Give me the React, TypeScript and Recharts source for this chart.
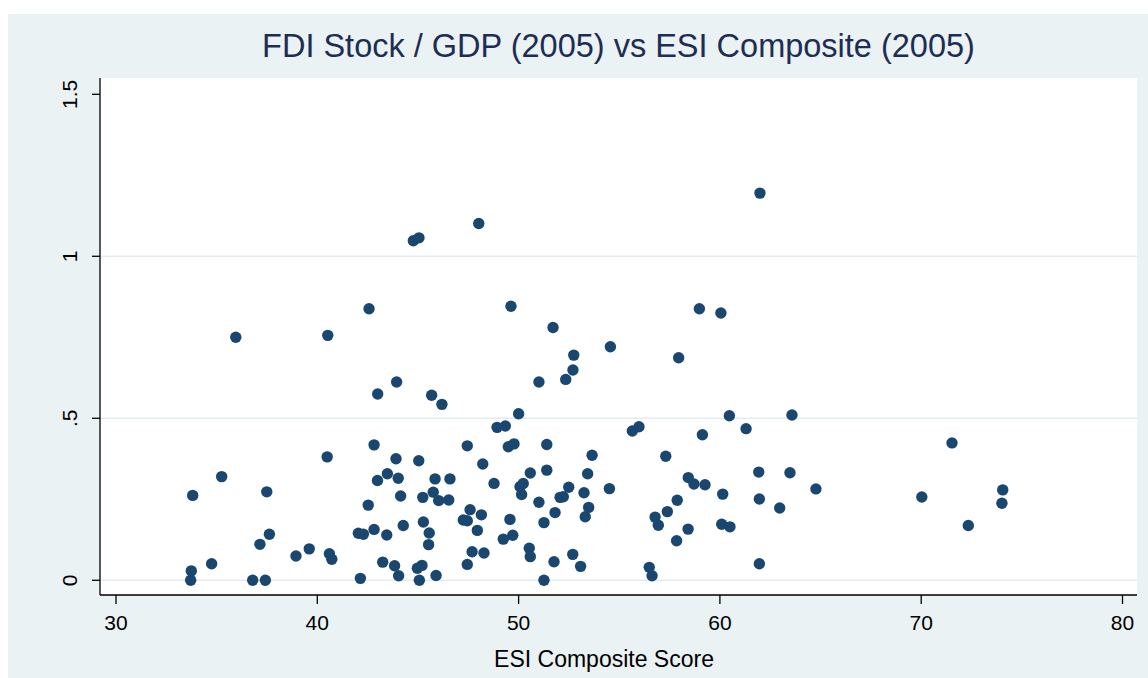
import { CartesianGrid, Scatter, ScatterChart, XAxis, YAxis } from "recharts";

const esiScore = [
  42.82, 40.49, 35.25, 33.81, 37.49, 42.99, 42.53, 37.62, 37.15, 42.04,
  42.29, 42.82, 38.94, 39.6, 40.6, 40.72, 34.75, 33.74, 33.71, 36.79,
  37.42, 42.14, 47.45, 49.49, 49.77, 51.4, 53.65, 43.91, 45.04, 48.22,
  43.48, 44.02, 45.85, 46.59, 51.4, 50.58, 53.43, 48.78, 50.23, 50.07,
  50.15, 52.49, 52.06, 52.22, 53.25, 54.51, 44.14, 45.24, 45.76, 46.03,
  46.53, 51.01, 47.59, 48.15, 53.48, 53.31, 51.81, 51.26, 49.57, 47.25,
  47.45, 45.27, 43.45, 44.27, 45.56, 45.53, 47.95, 49.24, 49.71, 47.69,
  48.28, 50.53, 50.58, 52.69, 51.76, 53.08, 43.25, 43.84, 44.04, 44.97,
  45.2, 45.9, 45.07, 47.45, 51.26, 60.47, 63.58, 55.65, 55.98, 61.3,
  59.13, 57.31, 61.93, 63.48, 58.43, 58.71, 59.26, 64.77, 60.14, 61.96,
  57.88, 57.39, 56.78, 56.94, 62.97, 58.42, 60.09, 60.5, 57.85, 56.49,
  56.63, 61.96, 71.53, 70.03, 74.05, 74.01, 72.34, 35.95, 40.52, 42.57,
  49.62, 51.71, 52.74, 52.7, 52.34, 54.56, 51.01, 43.94, 43.0, 45.68,
  46.19, 50.0, 48.93, 49.34, 61.99, 58.98, 60.05, 57.95, 44.77, 45.05,
  48.02,
];

const fdiGdp = [
  0.418, 0.381, 0.32, 0.262, 0.273, 0.308, 0.232, 0.142, 0.111, 0.145,
  0.142, 0.157, 0.075, 0.097, 0.082, 0.065, 0.051, 0.029, 0.0, 0.0,
  0.0, 0.006, 0.415, 0.412, 0.421, 0.419, 0.386, 0.375, 0.369, 0.359,
  0.329, 0.315, 0.313, 0.313, 0.34, 0.331, 0.329, 0.299, 0.299, 0.289,
  0.265, 0.287, 0.256, 0.258, 0.27, 0.283, 0.26, 0.256, 0.272, 0.246,
  0.248, 0.241, 0.218, 0.202, 0.225, 0.196, 0.209, 0.178, 0.188, 0.186,
  0.184, 0.18, 0.14, 0.169, 0.146, 0.11, 0.154, 0.127, 0.139, 0.088,
  0.084, 0.099, 0.073, 0.08, 0.057, 0.043, 0.056, 0.045, 0.014, 0.037,
  0.046, 0.015, 0.0, 0.049, 0.0, 0.508, 0.51, 0.461, 0.474, 0.468,
  0.449, 0.383, 0.334, 0.332, 0.317, 0.297, 0.295, 0.282, 0.266, 0.251,
  0.247, 0.212, 0.195, 0.17, 0.223, 0.158, 0.173, 0.165, 0.122, 0.04,
  0.014, 0.051, 0.424, 0.257, 0.279, 0.238, 0.169, 0.75, 0.756, 0.838,
  0.846, 0.78, 0.695, 0.649, 0.62, 0.721, 0.612, 0.612, 0.575, 0.571,
  0.543, 0.514, 0.472, 0.476, 1.195, 0.838, 0.825, 0.687, 1.048, 1.057,
  1.101,
];

const xTicks = [30, 40, 50, 60, 70, 80];
const yTicks = [0, 0.5, 1, 1.5];
const yTickLabels = ["0", ".5", "1", "1.5"];
const gridValues = [0, 0.5, 1];

const FONT = "'Liberation Sans', Arial, Helvetica, sans-serif";
const NAVY = "#1A476F";
const BG = "#EAF2F3";

const data = esiScore.map((esi, i) => ({ esi, fdi: fdiGdp[i] }));

function XTick({ x, payload }: any) {
  return (
    <text x={x} y={616} textAnchor="middle" fontSize={21} fontFamily={FONT} fill="#000">
      {payload.value}
    </text>
  );
}

function YTick({ y, payload }: any) {
  const idx = yTicks.indexOf(payload.value);
  return (
    <text
      x={69}
      y={y}
      textAnchor="middle"
      fontSize={21}
      fontFamily={FONT}
      fill="#000"
      transform={`rotate(-90, 69, ${y})`}
    >
      {idx >= 0 ? yTickLabels[idx] : payload.value}
    </text>
  );
}

function Dot({ cx, cy }: any) {
  return <circle cx={cx} cy={cy} r={5.7} fill={NAVY} />;
}

export default function App() {
  return (
    <div style={{ position: "fixed", left: 8, top: 14, width: 1140, height: 664, background: BG }}>
      <ScatterChart width={1140} height={664} margin={{ top: 64, right: 11, left: 0, bottom: 0 }}>
        <CartesianGrid
          fill="#fff"
          vertical={false}
          horizontalValues={gridValues}
          stroke="#E3ECF0"
          strokeWidth={1.5}
        />
        <XAxis
          type="number"
          dataKey="esi"
          domain={[29.205, 80.72]}
          allowDataOverflow
          ticks={xTicks}
          height={83}
          tickSize={9}
          axisLine={{ stroke: "#000", strokeWidth: 1.3 }}
          tickLine={{ stroke: "#000", strokeWidth: 1.3 }}
          tick={<XTick />}
        />
        <YAxis
          type="number"
          dataKey="fdi"
          domain={[-0.0454, 1.5503]}
          allowDataOverflow
          ticks={yTicks}
          width={92}
          tickSize={8}
          axisLine={{ stroke: "#000", strokeWidth: 1.3 }}
          tickLine={{ stroke: "#000", strokeWidth: 1.3 }}
          tick={<YTick />}
        />
        <Scatter data={data} fill={NAVY} shape={<Dot />} isAnimationActive={false} />
      </ScatterChart>
      <svg width={1140} height={664} style={{ position: "absolute", left: 0, top: 0, pointerEvents: "none" }}>
        <text x={610.5} y={43} textAnchor="middle" fontSize={32.5} fontFamily={FONT} fill="#1E2D53">
          FDI Stock / GDP (2005) vs ESI Composite (2005)
        </text>
        <text x={596} y={653} textAnchor="middle" fontSize={23} fontFamily={FONT} fill="#000">
          ESI Composite Score
        </text>
      </svg>
    </div>
  );
}
